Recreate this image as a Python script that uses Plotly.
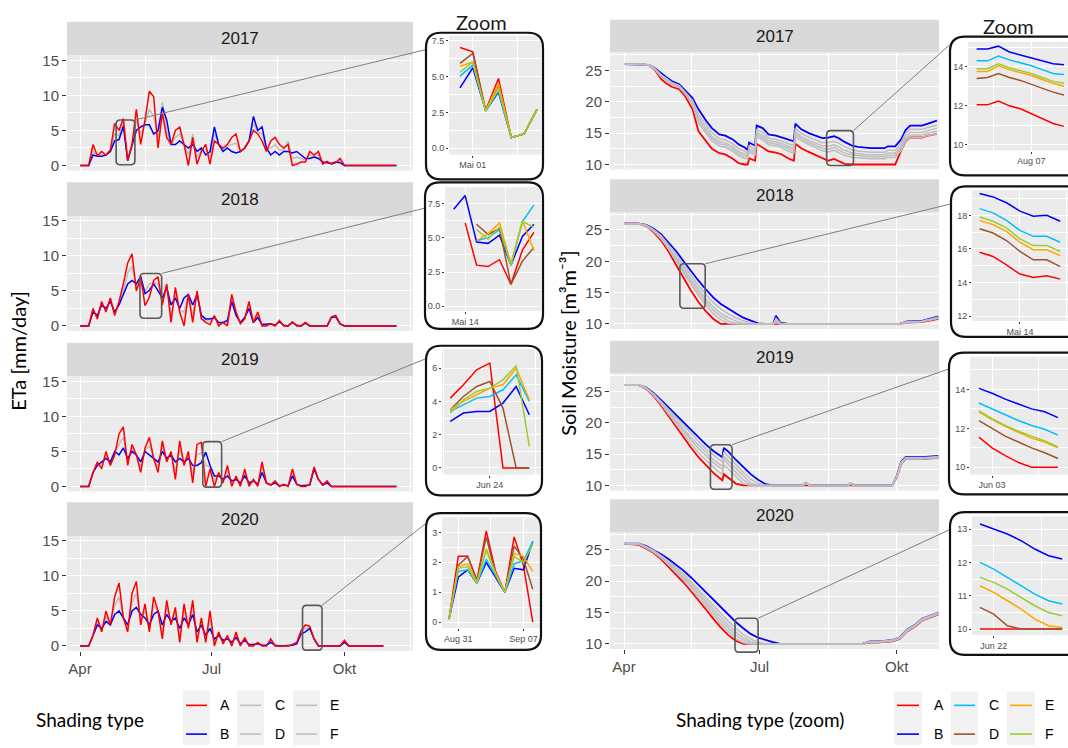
import datetime as dt
import plotly.graph_objects as go

# ===================== DATA =====================
YEARS = [2017, 2018, 2019, 2020]
COL_A, COL_B, COL_GREY = "#FF0000", "#0000FF", "#BEBEBE"
ZOOM_COLORS = ["#FF0000", "#0000FF", "#00BFFF", "#A0522D", "#FFA500", "#9ACD32"]  # A..F
SERIES = ["A", "B", "C", "D", "E", "F"]

# ETa [mm/day], one value every ETA_STEP days starting 1 April
ETA_STEP = 3
ETA_A_2017 = [0, 0, 0, 3.0, 1.4, 2.0, 1.5, 2.2, 6.0, 5.0,
              6.7, 0.7, 3.0, 8.0, 3.0, 6.5, 10.6, 9.8, 2.5, 7.5,
              4.0, 3.0, 5.0, 5.5, 3.0, 0.0, 4.0, 0.2, 2.0, 3.0,
              0.2, 3.5, 3.0, 2.5, 3.0, 4.0, 4.5, 2.0, 2.5, 3.5,
              5.0, 4.5, 3.5, 2.0, 3.5, 4.0, 3.0, 2.5, 3.0, 0.0,
              0.2, 0.5, 0.5, 2.0, 1.5, 2.0, 0.2, 0.6, 0.2, 0.4,
              1.0, 0, 0, 0, 0, 0, 0, 0, 0, 0, 0, 0, 0, 0]
ETA_B_2017 = [0, 0, 0, 1.5, 1.3, 1.3, 1.5, 2.0, 3.5, 3.7,
              5.6, 0.7, 3.0, 5.0, 5.5, 5.8, 5.8, 4.5, 5.0, 8.3,
              6.5, 3.0, 3.0, 3.5, 3.0, 2.5, 3.0, 2.0, 2.5, 1.5,
              2.0, 5.5, 3.0, 2.0, 2.5, 2.0, 1.8, 2.0, 2.5, 3.5,
              7.0, 5.0, 5.5, 2.5, 1.5, 2.0, 1.5, 2.0, 2.0, 1.8,
              2.0, 1.5, 1.0, 1.0, 1.2, 1.0, 0.5, 0.4, 0.3, 0.5,
              0.4, 0, 0, 0, 0, 0, 0, 0, 0, 0, 0, 0, 0, 0]
ETA_G_2017 = [0, 0, 0, 2.0, 1.4, 1.6, 1.5, 2.1, 4.5, 4.3,
              6.0, 0.7, 3.0, 6.5, 4.5, 6.0, 8.0, 7.0, 4.0, 9.0,
              5.0, 3.0, 4.0, 4.5, 3.0, 1.5, 4.5, 1.2, 2.2, 2.2,
              1.2, 4.5, 3.0, 2.2, 2.8, 3.0, 3.2, 2.0, 2.5, 3.5,
              6.0, 4.8, 4.5, 2.2, 2.5, 3.0, 2.2, 2.2, 3.5, 1.0,
              1.2, 1.0, 0.8, 1.5, 1.3, 1.5, 0.4, 0.5, 0.3, 0.5,
              0.7, 0, 0, 0, 0, 0, 0, 0, 0, 0, 0, 0, 0, 0]

ETA_A_2018 = [0, 0, 0, 2.5, 1.0, 3.5, 2.0, 4.0, 1.5, 3.5,
              6.0, 9.0, 10.3, 5.0, 7.0, 2.9, 4.1, 6.5, 7.0, 3.0,
              6.0, 0.5, 5.5, 2.0, 0.0, 4.5, 0.5, 5.0, 1.0, 0.5,
              0.2, 1.5, 0.0, 0.5, 0.0, 4.5, 2.0, 0.3, 1.0, 3.5,
              0.5, 2.0, 0.0, 0.0, 0.3, 0.0, 0.8, 0.0, 0.0, 0.6,
              0.0, 0.0, 0.5, 0.0, 0.0, 0.0, 0.0, 0.0, 1.3, 1.5,
              0.3, 0, 0, 0, 0, 0, 0, 0, 0, 0, 0, 0, 0, 0]
ETA_B_2018 = [0, 0, 0, 2.0, 1.5, 3.0, 2.5, 3.5, 2.0, 3.0,
              4.5, 6.0, 6.5, 6.0, 7.1, 4.6, 5.1, 6.0, 5.0, 4.0,
              5.5, 3.0, 4.0, 2.5, 4.0, 4.5, 3.0, 4.5, 1.5, 1.0,
              1.0, 1.2, 0.5, 0.5, 0.8, 3.5, 1.5, 0.5, 1.2, 2.5,
              0.5, 1.2, 0.2, 0.2, 0.3, 0.1, 0.6, 0.1, 0.0, 0.5,
              0.1, 0.0, 0.4, 0.0, 0.0, 0.0, 0.0, 0.0, 1.2, 1.3,
              0.3, 0, 0, 0, 0, 0, 0, 0, 0, 0, 0, 0, 0, 0]
ETA_G_2018 = [0, 0, 0, 2.2, 1.3, 3.2, 2.3, 3.8, 1.8, 3.2,
              5.0, 7.5, 8.5, 5.5, 6.0, 5.0, 6.0, 6.2, 6.0, 3.5,
              5.8, 1.5, 4.5, 2.2, 2.0, 4.5, 1.5, 4.8, 1.2, 0.8,
              0.6, 1.3, 0.3, 0.5, 0.4, 4.0, 1.8, 0.4, 1.1, 3.0,
              0.5, 1.6, 0.1, 0.1, 0.3, 0.05, 0.7, 0.05, 0.0, 0.5,
              0.05, 0.0, 0.45, 0.0, 0.0, 0.0, 0.0, 0.0, 1.25, 1.4,
              0.3, 0, 0, 0, 0, 0, 0, 0, 0, 0, 0, 0, 0, 0]

ETA_A_2019 = [0, 0, 0, 2.0, 3.5, 2.5, 5.0, 3.0, 4.5, 7.5,
              8.5, 3.0, 6.0, 4.5, 2.0, 5.5, 7.0, 4.0, 2.0, 6.5,
              3.5, 5.0, 1.0, 6.5, 3.0, 5.0, 0.5, 6.0, 6.3, 0.0,
              2.5, 0.0, 2.0, 0.5, 3.0, 0.0, 1.5, 0.0, 2.5, 0.0,
              1.0, 0.0, 3.5, 0.5, 0.2, 0.8, 0.0, 0.3, 0.0, 2.5,
              0.3, 0.0, 0.0, 0.3, 2.8, 1.0, 0.2, 0.8, 0, 0,
              0, 0, 0, 0, 0, 0, 0, 0, 0, 0, 0, 0, 0, 0]
ETA_B_2019 = [0, 0, 0, 2.0, 3.0, 3.5, 4.0, 3.5, 5.0, 4.5,
              5.5, 4.0, 5.0, 4.5, 3.5, 5.0, 4.5, 4.0, 3.5, 5.0,
              4.0, 4.5, 3.5, 4.0, 3.5, 4.0, 3.0, 3.0, 3.4, 4.9,
              3.0, 1.5, 1.5, 1.0, 1.5, 0.8, 1.0, 0.5, 1.5, 0.5,
              0.8, 0.3, 2.0, 0.5, 0.2, 0.5, 0.1, 0.2, 0.1, 1.5,
              0.3, 0.1, 0.1, 0.2, 2.5, 1.0, 0.2, 0.5, 0, 0,
              0, 0, 0, 0, 0, 0, 0, 0, 0, 0, 0, 0, 0, 0]
ETA_G_2019 = [0, 0, 0, 2.0, 3.2, 3.0, 4.5, 3.2, 4.8, 6.0,
              7.0, 3.5, 5.5, 4.5, 2.8, 5.2, 5.8, 4.0, 2.8, 5.8,
              3.8, 4.8, 2.2, 5.2, 3.2, 4.5, 1.8, 4.5, 4.8, 3.0,
              2.8, 0.8, 1.8, 0.8, 2.2, 0.4, 1.2, 0.3, 2.0, 0.3,
              0.9, 0.2, 2.8, 0.5, 0.2, 0.6, 0.05, 0.25, 0.05, 2.0,
              0.3, 0.05, 0.05, 0.25, 2.6, 1.0, 0.2, 0.6, 0, 0,
              0, 0, 0, 0, 0, 0, 0, 0, 0, 0, 0, 0, 0, 0]

ETA_A_2020 = [0, 0, 0, 1.5, 4.0, 2.0, 5.0, 3.0, 7.0, 9.0,
              4.0, 2.0, 7.5, 9.2, 3.0, 6.0, 2.0, 7.0, 5.0, 1.0,
              6.5, 3.0, 5.5, 0.5, 6.0, 2.5, 6.5, 0.5, 4.0, 0.5,
              5.0, 0.0, 2.0, 0.3, 1.5, 0.0, 2.0, 0.0, 1.2, 0.0,
              0.0, 0.5, 0.0, 0.0, 1.0, 0.0, 0.0, 0.0, 0.0, 0.2,
              0.5, 2.2, 3.0, 2.8, 1.0, 0.0, 0, 0, 0, 0,
              0, 0.8, 0, 0, 0, 0, 0, 0, 0, 0, 0]
ETA_B_2020 = [0, 0, 0, 1.5, 3.0, 2.5, 3.5, 3.0, 4.5, 5.0,
              4.0, 3.0, 5.0, 5.5, 4.5, 4.0, 3.0, 4.5, 5.0, 3.0,
              4.5, 3.5, 4.0, 2.5, 4.0, 3.0, 4.5, 2.0, 3.0, 1.5,
              2.5, 1.0, 1.5, 0.8, 1.0, 0.5, 1.2, 0.3, 0.8, 0.2,
              0.2, 0.3, 0.1, 0.1, 0.5, 0.1, 0, 0, 0, 0.1,
              0.3, 1.75, 2.0, 2.5, 1.0, 0, 0, 0, 0, 0,
              0, 0.5, 0, 0, 0, 0, 0, 0, 0, 0, 0]
ETA_G_2020 = [0, 0, 0, 1.5, 3.5, 2.2, 4.2, 3.0, 5.8, 7.0,
              4.0, 2.5, 6.2, 7.5, 3.8, 5.0, 2.5, 5.8, 5.0, 2.0,
              5.5, 3.2, 4.8, 1.5, 5.0, 2.8, 5.5, 1.2, 3.5, 1.0,
              3.8, 0.5, 1.8, 0.5, 1.2, 0.2, 1.6, 0.1, 1.0, 0.1,
              0.1, 0.4, 0.05, 0.05, 0.8, 0.05, 0, 0, 0, 0.15,
              0.4, 2.0, 2.5, 2.6, 1.0, 0, 0, 0, 0, 0,
              0, 0.6, 0, 0, 0, 0, 0, 0, 0, 0, 0]

# Soil moisture [m3 m-3], sample days counted from 1 April
SM_DAYS_2017 = [0, 12, 17, 21, 25, 28, 32, 37, 41, 46, 50, 55, 59, 64, 68, 73, 77, 81, 83, 84,
                88, 89, 93, 97, 102, 106, 110, 114, 115, 119, 124, 128, 133, 137, 141, 144, 148,
                153, 157, 162, 166, 171, 175, 177, 182, 186, 189, 192, 200, 204, 210]
SM_A_2017 = [26.0, 26.0, 25.8, 25.0, 23.6, 23.0, 22.4, 22.0, 20.9, 18.8, 15.3, 13.8, 12.5, 11.8, 11.6,
             10.9, 10.2, 10.0, 10.0, 11.0, 10.6, 13.3, 12.7, 12.1, 11.9, 11.6, 11.0, 10.6, 13.3, 12.6,
             12.0, 11.6, 11.0, 10.6, 10.9, 10.5, 10.1, 10.0, 10.0, 10.0, 10.0, 10.0, 10.0, 10.0, 10.0,
             12.2, 13.7, 14.3, 14.3, 14.6, 14.9]
SM_B_2017 = [26.0, 26.0, 25.9, 25.3, 24.5, 24.0, 23.3, 22.8, 21.8, 20.6, 18.8, 17.0, 15.8, 14.8, 14.6,
             14.0, 13.2, 12.7, 12.3, 13.5, 13.0, 16.2, 15.8, 14.8, 14.6, 14.3, 14.0, 13.7, 16.5, 15.6,
             15.0, 14.6, 14.2, 14.3, 14.5, 14.2, 13.6, 13.0, 12.8, 12.7, 12.6, 12.6, 12.6, 12.9, 12.9,
             14.0, 15.5, 16.2, 16.2, 16.5, 17.0]
SM_C_2017 = [26.0, 26.0, 25.9, 25.2, 24.3, 23.8, 23.1, 22.6, 21.6, 20.2, 18.0, 16.3, 15.1, 14.1, 13.9,
             13.3, 12.55, 12.1, 11.8, 12.95, 12.45, 15.55, 15.1, 14.2, 14.0, 13.7, 13.35, 13.0, 15.8, 14.95,
             14.35, 13.95, 13.5, 13.5, 13.7, 13.4, 12.85, 12.35, 12.15, 12.05, 11.95, 11.95, 11.95, 12.25, 12.25,
             13.5, 15.0, 15.6, 15.6, 15.9, 16.3]
SM_D_2017 = [26.0, 26.0, 25.85, 25.1, 23.95, 23.4, 22.75, 22.3, 21.25, 19.5, 16.6, 15.0, 13.75, 12.95, 12.75,
             12.1, 11.35, 11.0, 10.85, 11.95, 11.5, 14.4, 13.9, 13.15, 12.95, 12.65, 12.15, 11.8, 14.5, 13.75,
             13.15, 12.75, 12.2, 12.0, 12.25, 11.9, 11.45, 11.15, 11.05, 10.95, 10.9, 10.9, 10.9, 11.1, 11.1,
             12.2, 13.7, 14.3, 14.3, 14.6, 14.9]
SM_E_2017 = [26.0, 26.0, 25.85, 25.15, 24.05, 23.5, 22.85, 22.4, 21.35, 19.7, 17.05, 15.4, 14.15, 13.3, 13.1,
             12.45, 11.7, 11.35, 11.15, 12.25, 11.8, 14.75, 14.25, 13.45, 13.25, 12.95, 12.5, 12.15, 14.9, 14.1,
             13.5, 13.1, 12.6, 12.45, 12.7, 12.35, 11.85, 11.5, 11.4, 11.3, 11.25, 11.25, 11.25, 11.45, 11.45,
             12.6, 14.1, 14.7, 14.7, 15.0, 15.3]
SM_F_2017 = [26.0, 26.0, 25.85, 25.2, 24.15, 23.6, 22.95, 22.5, 21.45, 19.9, 17.5, 15.8, 14.5, 13.65, 13.45,
             12.8, 12.05, 11.7, 11.4, 12.55, 12.1, 15.1, 14.6, 13.8, 13.6, 13.3, 12.85, 12.5, 15.3, 14.45,
             13.85, 13.45, 13.0, 12.9, 13.15, 12.8, 12.3, 11.85, 11.7, 11.6, 11.55, 11.55, 11.55, 11.8, 11.8,
             13.0, 14.5, 15.1, 15.1, 15.4, 15.8]

SM_DAYS_2018 = [0, 10, 15, 20, 25, 30, 35, 40, 45, 50, 55, 60, 65, 70, 75, 80, 85, 90, 95, 100,
                102, 105, 110, 130, 150, 170, 185, 190, 200, 211]
SM_A_2018 = [26.0, 26.0, 25.6, 24.6, 23.3, 21.5, 19.4, 17.3, 15.3, 13.5, 12.0, 10.8, 10.0, 10.0, 10.0,
             10.0, 10.0, 10.0, 10.0, 10.0, 10.0, 10.0, 10.0, 10.0, 10.0, 10.0, 10.0, 10.2, 10.3, 10.8]
SM_B_2018 = [26.0, 26.0, 25.8, 25.2, 24.3, 23.0, 21.6, 20.0, 18.4, 16.9, 15.5, 14.2, 13.2, 12.4, 11.7,
             11.0, 10.5, 10.1, 10.0, 10.0, 11.3, 10.2, 10.0, 10.0, 10.0, 10.0, 10.0, 10.4, 10.5, 11.2]
SM_C_2018 = [26.0, 26.0, 25.75, 25.05, 24.05, 22.6, 21.1, 19.4, 17.7, 16.1, 14.7, 13.4, 12.4, 11.6, 11.0,
             10.5, 10.2, 10.0, 10.0, 10.0, 10.9, 10.1, 10.0, 10.0, 10.0, 10.0, 10.0, 10.35, 10.45, 11.1]
SM_D_2018 = [26.0, 26.0, 25.65, 24.75, 23.55, 21.9, 20.0, 18.1, 16.2, 14.5, 13.0, 11.6, 10.7, 10.1, 10.0,
             10.0, 10.0, 10.0, 10.0, 10.0, 10.2, 10.0, 10.0, 10.0, 10.0, 10.0, 10.0, 10.25, 10.35, 10.9]
SM_E_2018 = [26.0, 26.0, 25.7, 24.85, 23.7, 22.1, 20.3, 18.5, 16.7, 15.0, 13.5, 12.2, 11.2, 10.5, 10.1,
             10.0, 10.0, 10.0, 10.0, 10.0, 10.4, 10.0, 10.0, 10.0, 10.0, 10.0, 10.0, 10.3, 10.4, 11.0]
SM_F_2018 = [26.0, 26.0, 25.7, 24.95, 23.85, 22.3, 20.6, 18.9, 17.1, 15.5, 14.0, 12.7, 11.7, 11.0, 10.5,
             10.1, 10.0, 10.0, 10.0, 10.0, 10.6, 10.0, 10.0, 10.0, 10.0, 10.0, 10.0, 10.3, 10.4, 11.0]

SM_DAYS_2019 = [0, 10, 15, 20, 25, 30, 35, 40, 45, 50, 55, 60, 64, 66, 67, 70, 75, 80, 85, 90,
                95, 100, 120, 122, 125, 150, 152, 155, 180, 183, 186, 189, 200, 211]
SM_A_2019 = [26.0, 26.0, 25.4, 24.2, 22.7, 21.0, 19.3, 17.6, 16.0, 14.5, 13.2, 12.0, 11.2, 10.8, 11.8,
             11.2, 10.3, 10.0, 10.0, 10.0, 10.0, 10.0, 10.0, 10.0, 10.0, 10.0, 10.0, 10.0, 10.0, 11.2,
             13.4, 14.2, 14.2, 14.4]
SM_B_2019 = [26.0, 26.0, 25.6, 24.7, 23.6, 22.4, 21.2, 20.0, 18.8, 17.6, 16.5, 15.5, 14.8, 14.5, 16.0,
             15.4, 14.1, 12.9, 11.8, 10.9, 10.2, 10.0, 10.0, 10.4, 10.0, 10.0, 10.3, 10.0, 10.0, 11.5,
             13.8, 14.5, 14.5, 14.7]
SM_C_2019 = [26.0, 26.0, 25.55, 24.6, 23.4, 22.1, 20.8, 19.5, 18.2, 17.0, 15.8, 14.8, 14.1, 13.8, 15.3,
             14.6, 13.3, 12.1, 11.0, 10.3, 10.0, 10.0, 10.0, 10.4, 10.0, 10.0, 10.3, 10.0, 10.0, 11.4,
             13.7, 14.4, 14.4, 14.6]
SM_D_2019 = [26.0, 26.0, 25.45, 24.3, 22.9, 21.3, 19.7, 18.1, 16.6, 15.2, 14.0, 12.9, 12.1, 11.8, 13.3,
             12.6, 11.3, 10.3, 10.0, 10.0, 10.0, 10.0, 10.0, 10.3, 10.0, 10.0, 10.2, 10.0, 10.0, 11.2,
             13.4, 14.2, 14.2, 14.4]
SM_E_2019 = [26.0, 26.0, 25.5, 24.4, 23.1, 21.6, 20.1, 18.6, 17.2, 15.9, 14.7, 13.6, 12.9, 12.6, 14.1,
             13.4, 12.1, 10.9, 10.1, 10.0, 10.0, 10.0, 10.0, 10.35, 10.0, 10.0, 10.25, 10.0, 10.0, 11.3,
             13.5, 14.3, 14.3, 14.5]
SM_F_2019 = [26.0, 26.0, 25.5, 24.5, 23.2, 21.8, 20.4, 19.0, 17.6, 16.4, 15.2, 14.1, 13.4, 13.1, 14.6,
             13.9, 12.6, 11.4, 10.4, 10.0, 10.0, 10.0, 10.0, 10.4, 10.0, 10.0, 10.3, 10.0, 10.0, 11.4,
             13.6, 14.3, 14.3, 14.5]

SM_DAYS_2020 = [0, 10, 15, 20, 25, 30, 35, 40, 45, 50, 55, 60, 65, 70, 75, 80, 85, 90, 95, 100,
                105, 160, 165, 170, 180, 185, 190, 195, 200, 205, 211]
SM_A_2020 = [26.0, 25.8, 25.2, 24.5, 23.5, 22.3, 21.0, 19.8, 18.4, 17.0, 15.5, 14.0, 12.6, 11.4, 10.5,
             10.0, 10.0, 10.0, 10.0, 10.0, 10.0, 10.0, 10.2, 10.2, 10.4, 10.8, 12.0, 12.7, 13.7, 14.2, 14.7]
SM_B_2020 = [26.0, 26.0, 25.6, 25.0, 24.3, 23.5, 22.6, 21.7, 20.6, 19.4, 18.2, 17.0, 15.8, 14.6, 13.5,
             12.5, 11.6, 11.0, 10.6, 10.3, 10.0, 10.0, 10.4, 10.4, 10.6, 11.0, 12.3, 13.0, 14.0, 14.5, 15.0]
SM_C_2020 = [26.0, 26.0, 25.5, 24.9, 24.1, 23.2, 22.2, 21.2, 20.0, 18.7, 17.4, 16.1, 14.8, 13.6, 12.5,
             11.5, 10.8, 10.3, 10.0, 10.0, 10.0, 10.0, 10.4, 10.4, 10.6, 11.0, 12.3, 13.0, 14.0, 14.5, 15.0]
SM_D_2020 = [26.0, 25.9, 25.3, 24.6, 23.7, 22.6, 21.4, 20.2, 18.8, 17.5, 16.0, 14.6, 13.2, 12.0, 10.9,
             10.2, 10.0, 10.0, 10.0, 10.0, 10.0, 10.0, 10.25, 10.25, 10.45, 10.85, 12.05, 12.75, 13.75, 14.25, 14.75]
SM_E_2020 = [26.0, 25.9, 25.4, 24.7, 23.8, 22.8, 21.6, 20.5, 19.2, 17.9, 16.5, 15.1, 13.7, 12.5, 11.4,
             10.6, 10.1, 10.0, 10.0, 10.0, 10.0, 10.0, 10.3, 10.3, 10.5, 10.9, 12.1, 12.8, 13.8, 14.3, 14.8]
SM_F_2020 = [26.0, 25.95, 25.45, 24.8, 24.0, 23.0, 21.9, 20.8, 19.6, 18.3, 16.9, 15.6, 14.2, 13.0, 11.9,
             11.0, 10.4, 10.0, 10.0, 10.0, 10.0, 10.0, 10.35, 10.35, 10.55, 10.95, 12.2, 12.9, 13.9, 14.4, 14.9]

# Zoom windows: daily values from the given first day
ZE_START_2017 = "2017-04-30"
ZE_A_2017 = [7.0, 6.7, 2.65, 4.85, 0.75, 1.0, 2.7]
ZE_B_2017 = [4.2, 5.6, 2.6, 3.9, 0.75, 1.0, 2.7]
ZE_C_2017 = [5.0, 5.8, 2.6, 4.0, 0.75, 1.0, 2.7]
ZE_D_2017 = [5.9, 6.6, 2.6, 4.4, 0.75, 1.0, 2.7]
ZE_E_2017 = [5.7, 6.0, 2.6, 4.5, 0.75, 1.0, 2.7]
ZE_F_2017 = [5.3, 6.0, 2.6, 4.1, 0.75, 1.0, 2.7]

ZE_START_2018 = "2018-05-13"
ZE_A_2018 = [None, 6.1, 3.0, 2.9, 3.4, 1.6, 4.1, 5.4]
ZE_B_2018 = [7.1, 8.1, 4.7, 4.6, 5.2, 3.0, 5.1, 6.0]
ZE_C_2018 = [None, None, 4.8, 5.0, 5.6, 3.0, 6.2, 7.4]
ZE_D_2018 = [None, None, 6.0, 5.25, 5.7, 1.6, 3.3, 4.3]
ZE_E_2018 = [None, None, 4.8, 5.3, 6.1, 3.1, 6.25, 4.1]
ZE_F_2018 = [None, None, 5.6, 4.9, 5.8, 3.0, 6.2, 5.8]

ZE_START_2019 = "2019-06-21"
ZE_A_2019 = [4.2, 5.0, 5.9, 6.3, 0.0, 0.0, 0.0]
ZE_B_2019 = [2.8, 3.3, 3.4, 3.4, 3.9, 4.9, 3.2]
ZE_C_2019 = [3.4, 3.8, 4.2, 4.3, 4.7, 5.6, 4.0]
ZE_D_2019 = [3.5, 4.3, 4.9, 5.2, 3.6, 0.0, 0.0]
ZE_E_2019 = [3.5, 4.0, 4.4, 4.8, 5.0, 6.0, 4.1]
ZE_F_2019 = [3.3, 4.1, 4.6, 4.8, 5.3, 6.15, 1.3]

ZE_START_2020 = "2020-08-30"
ZE_A_2020 = [0.1, 2.2, 2.2, 1.4, 3.05, 1.7, 1.0, 2.85, 1.9, 0.0]
ZE_B_2020 = [0.1, 1.5, 1.75, 1.3, 2.0, 1.5, 1.0, 1.8, 1.75, 2.7]
ZE_C_2020 = [0.1, 1.7, 1.75, 1.3, 2.1, 1.55, 1.0, 1.95, 2.05, 2.7]
ZE_D_2020 = [0.1, 1.9, 2.2, 1.4, 2.85, 1.6, 1.0, 2.55, 2.1, 1.1]
ZE_E_2020 = [0.1, 1.85, 1.95, 1.35, 2.45, 1.65, 1.0, 2.3, 2.2, 1.7]
ZE_F_2020 = [0.1, 1.8, 1.85, 1.3, 2.4, 1.6, 1.0, 2.2, 2.0, 2.6]

ZS_START_2017 = "2017-08-02"
ZS_A_2017 = [12.05, 12.05, 12.25, 12.0, 11.85, 11.6, 11.35, 11.1, 10.95]
ZS_B_2017 = [14.9, 14.9, 15.05, 14.75, 14.6, 14.45, 14.3, 14.15, 14.1]
ZS_C_2017 = [14.3, 14.3, 14.55, 14.35, 14.2, 14.05, 13.85, 13.65, 13.6]
ZS_D_2017 = [13.4, 13.45, 13.65, 13.45, 13.3, 13.1, 12.9, 12.7, 12.55]
ZS_E_2017 = [13.75, 13.75, 14.05, 13.85, 13.7, 13.55, 13.35, 13.15, 13.0]
ZS_F_2017 = [13.9, 13.9, 14.15, 13.95, 13.8, 13.65, 13.45, 13.25, 13.15]

ZS_START_2018 = "2018-05-11"
ZS_A_2018 = [15.8, 15.55, 15.05, 14.5, 14.3, 14.4, 14.2]
ZS_B_2018 = [19.3, 19.1, 18.75, 18.25, 17.95, 18.0, 17.65]
ZS_C_2018 = [18.4, 18.15, 17.7, 17.1, 16.75, 16.75, 16.4]
ZS_D_2018 = [17.2, 16.95, 16.5, 15.85, 15.35, 15.35, 14.95]
ZS_E_2018 = [17.7, 17.45, 17.05, 16.4, 15.95, 15.95, 15.6]
ZS_F_2018 = [17.9, 17.65, 17.25, 16.6, 16.2, 16.2, 15.85]

ZS_START_2019 = "2019-06-02"
ZS_A_2019 = [11.55, 11.0, 10.6, 10.25, 10.0, 10.0, 10.0]
ZS_B_2019 = [14.05, 13.8, 13.5, 13.25, 13.0, 12.85, 12.55]
ZS_C_2019 = [13.3, 13.0, 12.7, 12.4, 12.15, 11.95, 11.65]
ZS_D_2019 = [12.4, 12.0, 11.6, 11.3, 11.0, 10.75, 10.45]
ZS_E_2019 = [12.85, 12.45, 12.1, 11.8, 11.5, 11.3, 11.0]
ZS_F_2019 = [12.9, 12.5, 12.15, 11.85, 11.6, 11.35, 11.05]

ZS_START_2020 = "2020-06-21"
ZS_A_2020 = [10.0, 10.0, 10.0, 10.0, 10.0, 10.0, 10.0]
ZS_B_2020 = [13.15, 13.0, 12.85, 12.65, 12.4, 12.2, 12.1]
ZS_C_2020 = [12.0, 11.8, 11.55, 11.3, 11.05, 10.85, 10.75]
ZS_D_2020 = [10.65, 10.45, 10.1, 10.0, 10.0, 10.0, 10.0]
ZS_E_2020 = [11.3, 11.1, 10.85, 10.6, 10.3, 10.1, 10.05]
ZS_F_2020 = [11.55, 11.4, 11.2, 10.95, 10.7, 10.5, 10.4]

# zoom-rectangle windows in the main panels: (first day, last day from 1 April, low, high)
BOX_ETA = {2017: (25, 38, 0.1, 6.5), 2018: (41.5, 56.5, 1.1, 7.5),
           2019: (85, 98, -0.1, 6.4), 2020: (154, 167.5, -0.6, 5.8)}
BOX_SM = {2017: (136, 154, 9.85, 15.4), 2018: (37.5, 54.5, 12.5, 19.6),
          2019: (58, 72.5, 9.4, 16.5), 2020: (74.5, 90, 8.7, 14.1)}

ETA_TABLE = {2017: (ETA_A_2017, ETA_B_2017, ETA_G_2017), 2018: (ETA_A_2018, ETA_B_2018, ETA_G_2018),
             2019: (ETA_A_2019, ETA_B_2019, ETA_G_2019), 2020: (ETA_A_2020, ETA_B_2020, ETA_G_2020)}
SM_TABLE = {2017: (SM_DAYS_2017, [SM_A_2017, SM_B_2017, SM_C_2017, SM_D_2017, SM_E_2017, SM_F_2017]),
            2018: (SM_DAYS_2018, [SM_A_2018, SM_B_2018, SM_C_2018, SM_D_2018, SM_E_2018, SM_F_2018]),
            2019: (SM_DAYS_2019, [SM_A_2019, SM_B_2019, SM_C_2019, SM_D_2019, SM_E_2019, SM_F_2019]),
            2020: (SM_DAYS_2020, [SM_A_2020, SM_B_2020, SM_C_2020, SM_D_2020, SM_E_2020, SM_F_2020])}
ZE_TABLE = {2017: (ZE_START_2017, [ZE_A_2017, ZE_B_2017, ZE_C_2017, ZE_D_2017, ZE_E_2017, ZE_F_2017]),
            2018: (ZE_START_2018, [ZE_A_2018, ZE_B_2018, ZE_C_2018, ZE_D_2018, ZE_E_2018, ZE_F_2018]),
            2019: (ZE_START_2019, [ZE_A_2019, ZE_B_2019, ZE_C_2019, ZE_D_2019, ZE_E_2019, ZE_F_2019]),
            2020: (ZE_START_2020, [ZE_A_2020, ZE_B_2020, ZE_C_2020, ZE_D_2020, ZE_E_2020, ZE_F_2020])}
ZS_TABLE = {2017: (ZS_START_2017, [ZS_A_2017, ZS_B_2017, ZS_C_2017, ZS_D_2017, ZS_E_2017, ZS_F_2017]),
            2018: (ZS_START_2018, [ZS_A_2018, ZS_B_2018, ZS_C_2018, ZS_D_2018, ZS_E_2018, ZS_F_2018]),
            2019: (ZS_START_2019, [ZS_A_2019, ZS_B_2019, ZS_C_2019, ZS_D_2019, ZS_E_2019, ZS_F_2019]),
            2020: (ZS_START_2020, [ZS_A_2020, ZS_B_2020, ZS_C_2020, ZS_D_2020, ZS_E_2020, ZS_F_2020])}

# ===================== LAYOUT =====================
W, H = 1068, 748
SANS = "Liberation Sans, Arial, sans-serif"
HUM = "Lato, Open Sans, sans-serif"
PANEL_BG, STRIP_BG = "#EBEBEB", "#D9D9D9"


def fx(px):
    return px / W


def fy(py):
    return 1 - py / H


def ts(t):
    return t.strftime("%Y-%m-%d %H:%M:%S")


def apr1_plus(year, days):
    return dt.datetime(year, 4, 1) + dt.timedelta(days=days)


def parse(s):
    return dt.datetime.strptime(s, "%Y-%m-%d")


layout = dict(width=W, height=H, margin=dict(l=0, r=0, t=0, b=0), paper_bgcolor="white",
              plot_bgcolor="rgba(0,0,0,0)", showlegend=False)
shapes, annotations, traces = [], [], []
count = [0]


def rect(x0, y0, x1, y1, fill, layer="below", line=None):
    shapes.append(dict(type="rect", xref="paper", yref="paper", x0=fx(x0), x1=fx(x1), y0=fy(y1), y1=fy(y0),
                       fillcolor=fill, line=line or dict(width=0), layer=layer))


def rrect_path(x0, y0, x1, y1, r):
    p = [("M", x0 + r, y0), ("L", x1 - r, y0), ("Q", x1, y0, x1, y0 + r), ("L", x1, y1 - r),
         ("Q", x1, y1, x1 - r, y1), ("L", x0 + r, y1), ("Q", x0, y1, x0, y1 - r), ("L", x0, y0 + r),
         ("Q", x0, y0, x0 + r, y0)]
    out = []
    for seg_ in p:
        cmd, vals = seg_[0], seg_[1:]
        coords = []
        for i in range(0, len(vals), 2):
            coords.append(f"{fx(vals[i]):.5f},{fy(vals[i + 1]):.5f}")
        out.append(cmd + " " + " ".join(coords))
    return " ".join(out) + " Z"


def rrect(x0, y0, x1, y1, r, fill=None, color=None, width=0, layer="above"):
    shapes.append(dict(type="path", xref="paper", yref="paper", path=rrect_path(x0, y0, x1, y1, r),
                       fillcolor=fill or "rgba(0,0,0,0)", line=dict(color=color or "rgba(0,0,0,0)", width=width),
                       layer=layer))


def seg(x0, y0, x1, y1, color, width, layer="above"):
    shapes.append(dict(type="line", xref="paper", yref="paper", x0=fx(x0), y0=fy(y0), x1=fx(x1), y1=fy(y1),
                       line=dict(color=color, width=width), layer=layer))


def text(x, y, s, size, color="#000000", family=SANS, xanchor="center", angle=0):
    annotations.append(dict(x=fx(x), y=fy(y), xref="paper", yref="paper", text=s, showarrow=False,
                            font=dict(size=size, color=color, family=family), xanchor=xanchor,
                            yanchor="middle", textangle=angle))


def new_axes(xpx, ypx, xrange, yrange, xt, xtt, xminor, yt, ytt, yminor, fsize, show_x,
             major_w=1.2, minor_w=0.6, ticklen=4):
    count[0] += 1
    n = count[0]
    xk, yk = ("xaxis", "yaxis") if n == 1 else (f"xaxis{n}", f"yaxis{n}")
    xr, yr = ("x", "y") if n == 1 else (f"x{n}", f"y{n}")
    font = dict(size=fsize, color="#4D4D4D", family=SANS)
    # keep only ticks that fall inside the visible range
    keep = [(v, t) for v, t in zip(xt, xtt) if xrange[0] <= v <= xrange[1]]
    xt, xtt = [k[0] for k in keep], [k[1] for k in keep]
    xminor = [v for v in xminor if xrange[0] <= v <= xrange[1]]
    keep = [(v, t) for v, t in zip(yt, ytt) if yrange[0] <= v <= yrange[1]]
    yt, ytt = [k[0] for k in keep], [k[1] for k in keep]
    yminor = [v for v in yminor if yrange[0] <= v <= yrange[1]]
    layout[xk] = dict(domain=[fx(xpx[0]), fx(xpx[1])], anchor=yr, type="date", range=xrange,
                      tickmode="array", tickvals=xt, ticktext=xtt, showticklabels=show_x,
                      ticks="outside" if show_x else "", ticklen=ticklen, tickwidth=1, tickcolor="#333333",
                      tickfont=font, showgrid=True, gridcolor="white", gridwidth=major_w, zeroline=False,
                      showline=False, fixedrange=True,
                      minor=dict(tickmode="array", tickvals=xminor, showgrid=True, gridcolor="white",
                                 gridwidth=minor_w, ticks=""))
    layout[yk] = dict(domain=[fy(ypx[1]), fy(ypx[0])], anchor=xr, range=yrange,
                      tickmode="array", tickvals=yt, ticktext=ytt, ticks="outside", ticklen=ticklen,
                      tickwidth=1, tickcolor="#333333", tickfont=font, showgrid=True, gridcolor="white",
                      gridwidth=major_w, zeroline=False, showline=False, fixedrange=True,
                      minor=dict(tickmode="array", tickvals=yminor, showgrid=True, gridcolor="white",
                                 gridwidth=minor_w, ticks=""))
    rect(xpx[0], ypx[0], xpx[1], ypx[1], PANEL_BG)
    return xr, yr


def add_line(xr, yr, xs, ys, color, width):
    traces.append(go.Scatter(x=xs, y=ys, mode="lines", line=dict(color=color, width=width),
                             xaxis=xr, yaxis=yr, hoverinfo="skip", showlegend=False, connectgaps=False))


# ---- main panel geometry (pixels) ----
L_X = (67, 413); L_APR1 = 80.0; L_PPD = 1.445
R_X = (610, 939); R_APR1 = 624.0; R_PPD = 1.49
L_ROWS = [(52, 168, 163), (214, 330, 325), (376, 492, 487), (537, 653, 648)]  # top, bottom, px of y=0
R_ROWS = [(49, 167, 162), (210, 328, 323), (373, 491, 486), (533, 651, 646)]  # top, bottom, px of y=10
L_PPU = 7.067
R_PPU = 6.33

L_INSET_BOX = [(426, 29, 543, 177), (425, 180, 543, 328), (426, 345, 542, 496), (426, 514, 541, 652)]
R_INSET_BOX = [(950, 33, 1090, 173), (951, 184, 1090, 336), (949, 352, 1090, 495), (950, 513, 1090, 657)]
# inset plot areas: (x0, x1, y0, y1, anchor date, px of anchor, px/day, ref value, px of ref value, px/unit)
L_INSET = [(449, 541, 32, 152, "2017-05-01", 475.0, 14.0, 0.0, 145.7, 14.53),
           (445, 541, 185, 310, "2018-05-14", 466.7, 12.33, 0.0, 305.0, 13.78),
           (442, 540, 348, 475, "2019-06-24", 494.0, 14.33, 0.0, 468.3, 16.78),
           (442, 540, 518, 630, "2020-08-31", 459.3, 9.87, 0.0, 624.0, 30.2)]
R_INSET = [(968, 1068, 38, 148, "2017-08-07", 1035.7, 11.7, 10.0, 142.3, 19.75),
           (972, 1068, 188, 320, "2018-05-14", 1024.3, 14.67, 12.0, 315.0, 16.94),
           (970, 1068, 356, 475, "2019-06-03", 994.0, 14.33, 10.0, 467.7, 19.67),
           (972, 1068, 517, 637, "2020-06-22", 995.7, 15.0, 10.0, 631.0, 33.67)]
L_INSET_Y = [([0, 2.5, 5, 7.5], ["0.0", "2.5", "5.0", "7.5"], [1.25, 3.75, 6.25]),
             ([0, 2.5, 5, 7.5], ["0.0", "2.5", "5.0", "7.5"], [1.25, 3.75, 6.25]),
             ([0, 2, 4, 6], ["0", "2", "4", "6"], [1, 3, 5]),
             ([0, 1, 2, 3], ["0", "1", "2", "3"], [0.5, 1.5, 2.5])]
R_INSET_Y = [([10, 12, 14], ["10", "12", "14"], [11, 13, 15]),
             ([12, 14, 16, 18], ["12", "14", "16", "18"], [13, 15, 17, 19]),
             ([10, 12, 14], ["10", "12", "14"], [11, 13, 15]),
             ([10, 11, 12, 13], ["10", "11", "12", "13"], [10.5, 11.5, 12.5])]
MONTHS_DE = {1: "Jan", 2: "Feb", 3: "Mär", 4: "Apr", 5: "Mai", 6: "Jun", 7: "Jul", 8: "Aug",
             9: "Sep", 10: "Okt", 11: "Nov", 12: "Dez"}
L_CONNECT_END = [(426, 46), (425, 206), (426, 358), (425, 525)]
R_CONNECT_END = [(951, 40), (950, 202), (950, 368), (951, 530)]


def main_ticks(year):
    tv = [ts(dt.datetime(year, 4, 1)), ts(dt.datetime(year, 7, 1)), ts(dt.datetime(year, 10, 1))]
    mn = [ts(dt.datetime(year, 5, 16, 12)), ts(dt.datetime(year, 8, 16)), ts(dt.datetime(year, 11, 16))]
    return tv, ["Apr", "Jul", "Okt"], mn


def add_inset(spec, yspec, box, series_start, series_vals, lw=1.5):
    x0, x1, y0, y1, anchor, apx, ppd, refv, refpx, ppu = spec
    bx0, by0, bx1, by1 = box
    rrect(bx0, by0, bx1, by1, 15, fill="white", layer="below")
    a = parse(anchor)
    xrange = [ts(a + dt.timedelta(days=(x0 - apx) / ppd)), ts(a + dt.timedelta(days=(x1 - apx) / ppd + 0.6))]
    yrange = [refv - (y1 - refpx) / ppu, refv + (refpx - y0) / ppu]
    majors = [a + dt.timedelta(days=7 * k) for k in (-1, 0, 1)]
    minors = [a + dt.timedelta(days=7 * k + 3.5) for k in (-2, -1, 0, 1)]
    xt = [ts(m) for m in majors]
    xtt = [f"{MONTHS_DE[m.month]} {m.day:02d}" for m in majors]
    yt, ytt, ymn = yspec
    xr, yr = new_axes((x0, x1), (y0, y1), xrange, yrange, xt, xtt, [ts(m) for m in minors],
                      yt, ytt, ymn, 9, True, major_w=1.0, minor_w=0.5, ticklen=2)
    start = parse(series_start)
    for name, vals, col in zip(SERIES, series_vals, ZOOM_COLORS):
        xs = [ts(start + dt.timedelta(days=i)) for i in range(len(vals))]
        add_line(xr, yr, xs, vals, col, lw)
    rrect(bx0, by0, bx1, by1, 15, color="#111111", width=2.2, layer="above")


# ---- main panels ----
for i, year in enumerate(YEARS):
    last = i == len(YEARS) - 1
    tv, tt, mn = main_ticks(year)
    # ETa (left)
    top, bot, zpx = L_ROWS[i]
    rect(L_X[0], top - 34, L_X[1], top, STRIP_BG)
    text((L_X[0] + L_X[1]) / 2, top - 17, str(year), 17, "#1A1A1A")
    xrange = [ts(apr1_plus(year, (L_X[0] - L_APR1) / L_PPD)), ts(apr1_plus(year, (L_X[1] - L_APR1) / L_PPD))]
    yrange = [-(bot - zpx) / L_PPU, (zpx - top) / L_PPU]
    xr, yr = new_axes(L_X, (top, bot), xrange, yrange, tv, tt, mn, [0, 5, 10, 15], ["0", "5", "10", "15"],
                      [2.5, 7.5, 12.5], 15, last)
    a_vals, b_vals, g_vals = ETA_TABLE[year]
    for vals, col in ((g_vals, COL_GREY), (b_vals, COL_B), (a_vals, COL_A)):
        xs = [ts(apr1_plus(year, k * ETA_STEP)) for k in range(len(vals))]
        add_line(xr, yr, xs, vals, col, 1.5)
    d0, d1, v0, v1 = BOX_ETA[year]
    bx0, bx1 = L_APR1 + d0 * L_PPD, L_APR1 + d1 * L_PPD
    by0, by1 = zpx - v1 * L_PPU, zpx - v0 * L_PPU
    rrect(bx0, by0, bx1, by1, 4, color="#595959", width=1.6)
    seg(bx1, by0, L_CONNECT_END[i][0], L_CONNECT_END[i][1], "#7F7F7F", 1)

    # Soil moisture (right)
    top, bot, tpx = R_ROWS[i]
    rect(R_X[0], top - 33, R_X[1], top, STRIP_BG)
    text((R_X[0] + R_X[1]) / 2, top - 16.5, str(year), 17, "#1A1A1A")
    xrange = [ts(apr1_plus(year, (R_X[0] - R_APR1) / R_PPD)), ts(apr1_plus(year, (R_X[1] - R_APR1) / R_PPD))]
    yrange = [10 - (bot - tpx) / R_PPU, 10 + (tpx - top) / R_PPU]
    xr, yr = new_axes(R_X, (top, bot), xrange, yrange, tv, tt, mn, [10, 15, 20, 25], ["10", "15", "20", "25"],
                      [12.5, 17.5, 22.5, 27.5], 15, last)
    days, series = SM_TABLE[year]
    xs = [ts(apr1_plus(year, d)) for d in days]
    add_line(xr, yr, xs, series[0], COL_A, 1.8)
    add_line(xr, yr, xs, series[1], COL_B, 1.8)
    for vals in series[2:]:
        add_line(xr, yr, xs, vals, COL_GREY, 1.5)
    d0, d1, v0, v1 = BOX_SM[year]
    bx0, bx1 = R_APR1 + d0 * R_PPD, R_APR1 + d1 * R_PPD
    by0, by1 = tpx - (v1 - 10) * R_PPU, tpx - (v0 - 10) * R_PPU
    rrect(bx0, by0, bx1, by1, 4, color="#595959", width=1.6)
    seg(bx1, by0, R_CONNECT_END[i][0], R_CONNECT_END[i][1], "#7F7F7F", 1)

# ---- insets ----
for i, year in enumerate(YEARS):
    st, vals = ZE_TABLE[year]
    add_inset(L_INSET[i], L_INSET_Y[i], L_INSET_BOX[i], st, vals)
    st, vals = ZS_TABLE[year]
    add_inset(R_INSET[i], R_INSET_Y[i], R_INSET_BOX[i], st, vals)

# ---- titles ----
text(481, 18, "Zoom", 20, "#1A1A1A", HUM)
text(1008, 22, "Zoom", 20, "#1A1A1A", HUM)
text(18, 350, "ETa [mm/day]", 20, "#000000", HUM, angle=-90)
text(568, 343, "Soil Moisture [m³m⁻³]", 20, "#000000", HUM, angle=-90)

# ---- legends ----
text(90, 722, "Shading type", 19, "#000000", HUM)
text(760, 722, "Shading type (zoom)", 19, "#000000", HUM)
L_KEYS = [(183, 210, 218), (237, 264, 273), (293, 320, 328)]
R_KEYS = [(894, 922, 932), (951, 978, 987), (1007, 1035, 1043)]
ROWS_Y = [708, 737]
left_cols = [COL_A, COL_B, COL_GREY, COL_GREY, COL_GREY, COL_GREY]
for c, (k0, k1, lx) in enumerate(L_KEYS):
    rect(k0, 693, k1, 748, "#F2F2F2", layer="above")
    for r in range(2):
        idx = 2 * c + r
        seg(k0 + 3, ROWS_Y[r], k1 - 3, ROWS_Y[r], left_cols[idx], 1.6)
        text(lx, ROWS_Y[r], SERIES[idx], 14, "#000000", SANS, xanchor="left")
for c, (k0, k1, lx) in enumerate(R_KEYS):
    rect(k0, 694, k1, 748, "#F2F2F2", layer="above")
    for r in range(2):
        idx = 2 * c + r
        seg(k0 + 3, ROWS_Y[r], k1 - 3, ROWS_Y[r], ZOOM_COLORS[idx], 1.6)
        text(lx, ROWS_Y[r], SERIES[idx], 14, "#000000", SANS, xanchor="left")

layout["shapes"] = shapes
layout["annotations"] = annotations
fig = go.Figure(data=traces, layout=layout)
fig.write_html("out.html")
